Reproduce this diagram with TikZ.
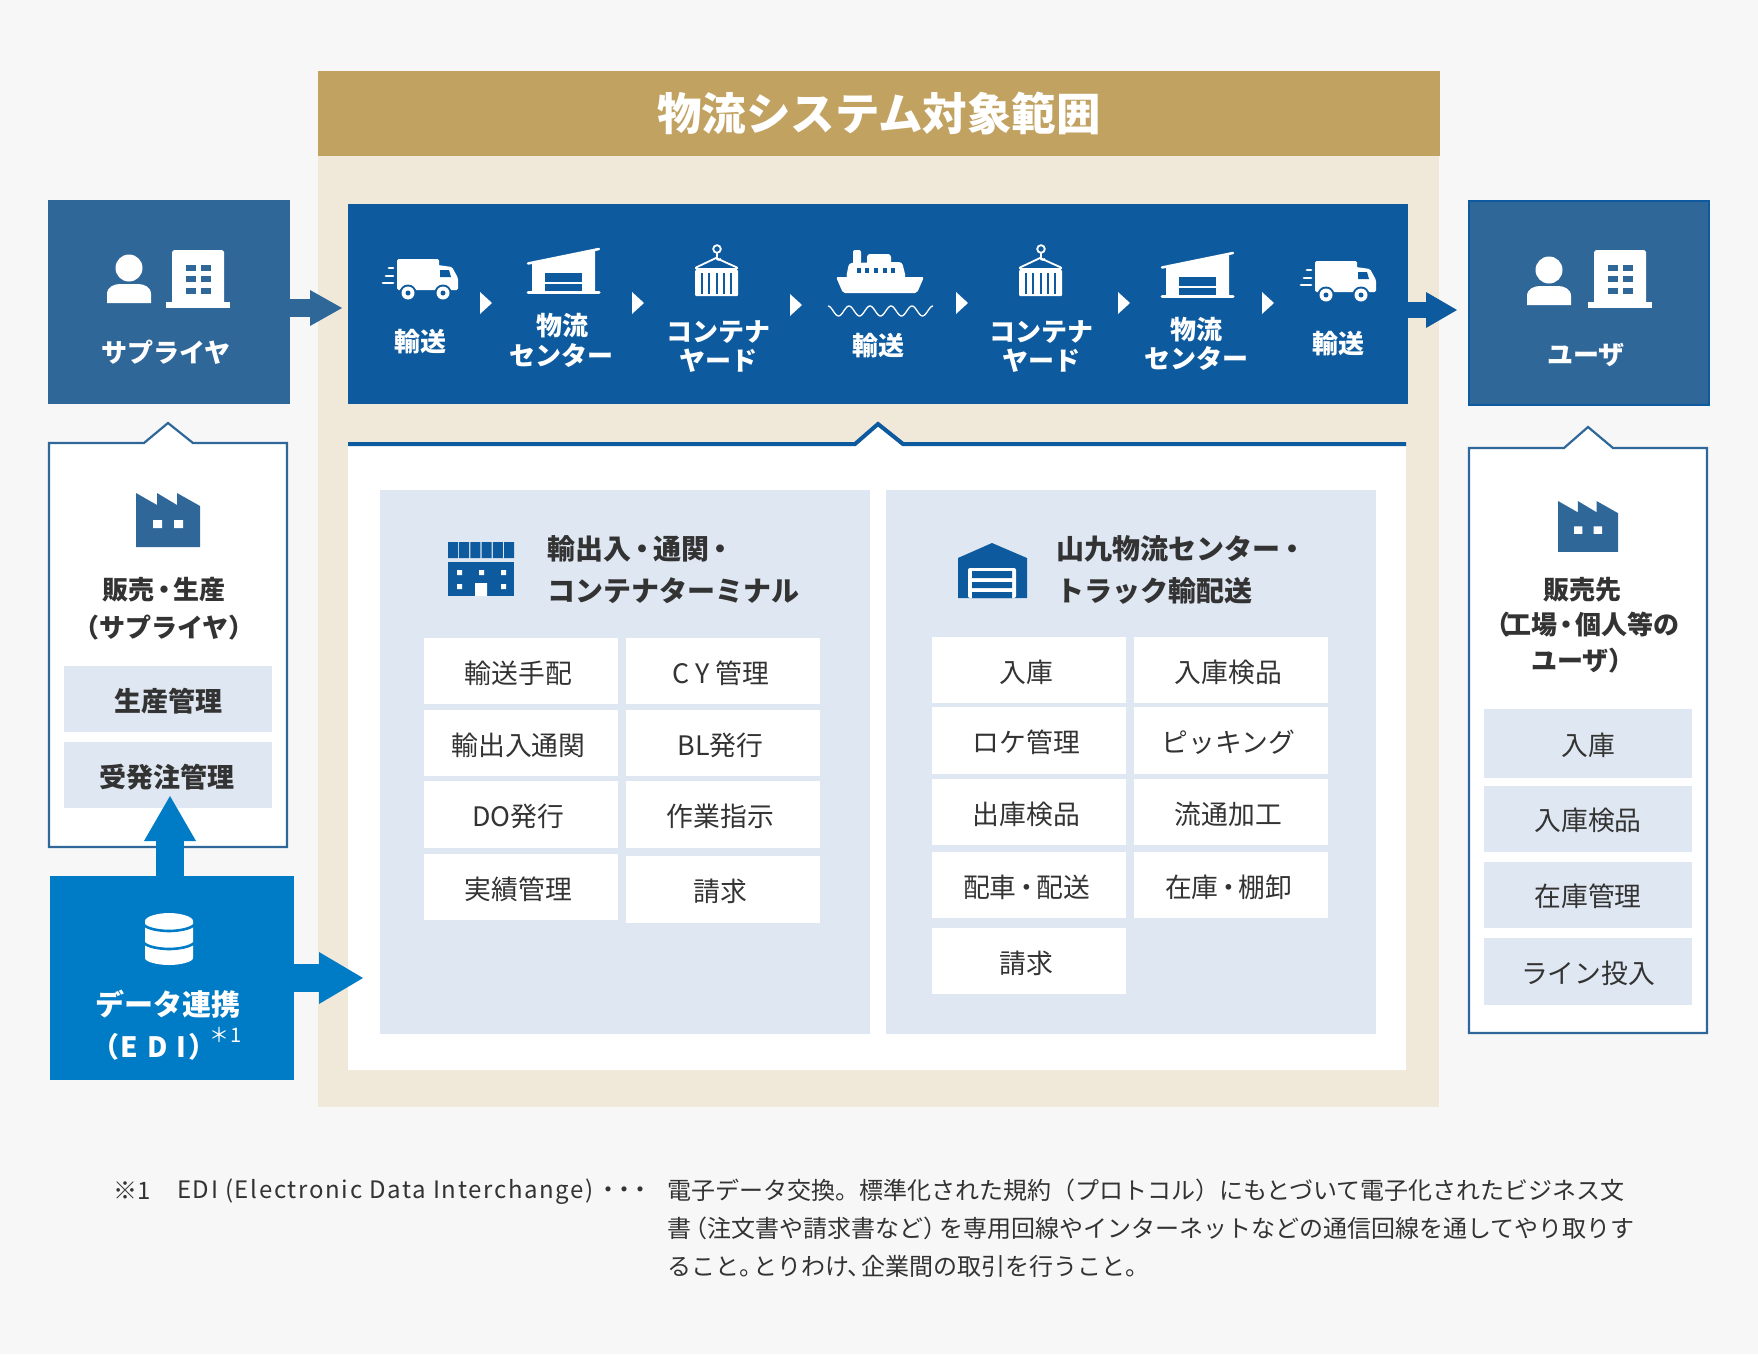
\documentclass[tikz,border=0pt]{standalone}
\usepackage{fontspec}
\setmainfont{Noto Sans CJK JP}
\usetikzlibrary{arrows.meta,calc}
\definecolor{bgc}{HTML}{F7F7F7}
\definecolor{goldc}{HTML}{C1A261}
\definecolor{beigec}{HTML}{F0E8D9}
\definecolor{bandc}{HTML}{0D5A9E}
\definecolor{steelc}{HTML}{2F6799}
\definecolor{panelc}{HTML}{DFE7F2}
\definecolor{edic}{HTML}{007CC7}
\definecolor{inkc}{HTML}{333333}
\newcommand\fs[1]{\fontsize{#1}{#1}\selectfont}
\newcommand\dotk[1]{\kern-#1pt・\kern-#1pt}
\newcommand\bx[7]{\node[#2,anchor=north west,minimum width={(#5-#3)*1pt},minimum height={(#6-#4)*1pt}] (#1) at (#3,#4) {#7};}
\newcommand\cx[6]{\bx{#1}{cell}{#2}{#3}{#4}{#5}{#6\kern5pt}}
\tikzset{
  x=1pt,y=-1pt,
  plain/.style={inner sep=0pt,outer sep=0pt},
  cell/.style={plain,fill=white,text=inkc,font=\fs{26.8},text height=27pt,text depth=3pt},
  subcell/.style={plain,fill=panelc,text=inkc,font=\fs{26.8},text height=26pt,text depth=3pt},
  subcellb/.style={plain,fill=panelc,text=inkc,font=\fs{27}\bfseries,text height=27pt,text depth=3pt},
  whitelbl/.style={plain,text=white,font=\fs{26}\bfseries,align=center},
  darklbl/.style={plain,text=inkc,font=\fs{26}\bfseries},
  headlbl/.style={plain,text=inkc,font=\fs{28}\bfseries,anchor=west},
  notelbl/.style={plain,text=inkc,font=\fs{24},anchor=west},
  tri/.style={fill=white},
}
\newcommand\personicon[3]{\begin{scope}[shift={(#1,#2)}]
  \fill[#3] (0,-16) circle[radius=13.5];
  \fill[#3] (-22,19) -- (-22,10) .. controls (-22,3) and (-15,0) .. (-9,0) -- (9,0) .. controls (15,0) and (22,3) .. (22,10) -- (22,19) -- cycle;
\end{scope}}
\newcommand\buildingicon[3]{\begin{scope}[shift={(#1,#2)}]
  \fill[white] (6,54) -- (6,2) -- (8,0) -- (56,0) -- (58,2) -- (58,54) -- cycle;
  \fill[white] (0,52) rectangle (64,58);
  \foreach \yy in {15,26,38}{\foreach \xx in {20,35}{\fill[#3] (\xx,\yy) rectangle ++(9.5,5.5);}}
\end{scope}}
\newcommand\factoryicon[4]{\begin{scope}[shift={(#1,#2)},scale=#3]
  \fill[#4] (0,0) -- (21,12) -- (21,0) -- (41,12) -- (41,0) -- (64,13) -- (64,54) -- (0,54) -- cycle;
  \fill[white] (17,27) rectangle ++(9,8) (38,27) rectangle ++(9,8);
\end{scope}}
\newcommand\truckicon[2]{\begin{scope}[shift={(#1,#2)}]
  \fill[white,rounded corners=1.5pt] (15,0) rectangle (57,31);
  \fill[white,rounded corners=1.5pt] (56,6) -- (70,8) -- (76,19) -- (76,31) -- (56,31) -- cycle;
  \fill[bandc] (58,11) -- (67,11) -- (69,18) -- (58,18) -- cycle;
  \fill[bandc] (26,34) circle[radius=8.5] (61,34) circle[radius=8.5];
  \fill[white] (26,34) circle[radius=6.5] (61,34) circle[radius=6.5];
  \fill[bandc] (26,34) circle[radius=2.5] (61,34) circle[radius=2.5];
  \draw[white,line width=2.8pt,line cap=round] (7,9) -- (11,9) (4,17) -- (11,17) (1,24) -- (11,24);
\end{scope}}
\newcommand\shedicon[2]{\begin{scope}[shift={(#1,#2)}]
  \fill[white] (5,15) -- (68,1.5) -- (68,45) -- (5,45) -- cycle;
  \draw[white,line width=2.5pt,line cap=round] (1,15.5) -- (72,1);
  \draw[white,line width=3pt,line cap=round] (1,44.5) -- (72,44.5);
  \fill[bandc] (18,25) rectangle (55,43);
  \fill[white] (18,33.5) rectangle (55,35.5);
\end{scope}}
\newcommand\containericon[2]{\begin{scope}[shift={(#1,#2)}]
  \draw[white,line width=1.8pt] (22,5) circle[radius=3.8];
  \draw[white,line width=1.8pt] (22,9) -- (22,13) .. controls (20,15) and (24,17) .. (26,15);
  \draw[white,line width=1.8pt,line join=round] (1,25) -- (1,23.5) -- (21,14) -- (42,23.5) -- (42,25);
  \draw[white,line width=1.2pt] (1,25) -- (42,25);
  \fill[white,rounded corners=1pt] (0,26) rectangle (43,52);
  \foreach \xx in {7,14,21.5,29,36}{\fill[bandc] (\xx-1,28.5) rectangle (\xx+1,49.5);}
\end{scope}}
\newcommand\shipicon[2]{\begin{scope}[shift={(#1,#2)}]
  \fill[white,rounded corners=2pt] (17,0) rectangle (25,16);
  \fill[white,rounded corners=3pt] (31,4) rectangle (55,16);
  \fill[white,rounded corners=3pt] (10,28) -- (13,13) -- (66,12) -- (70,28) -- cycle;
  \fill[white,rounded corners=2pt] (0,27) -- (88,27) -- (81,43) -- (7,43) -- cycle;
  \foreach \xx in {23,31,40,49,57}{\fill[bandc] (\xx-2,18) rectangle (\xx+2,22.5);}
\end{scope}
\draw[white,line width=1.3pt] plot[smooth,domain=0:105,samples=90] ({\x+828},{311-5*cos(\x/21*360)});}
\begin{document}
\begin{tikzpicture}
\useasboundingbox (0,0) rectangle (1758,1354);
\fill[bgc] (0,0) rectangle (1758,1354);
% central frame
\bx{scope1}{plain,fill=beigec}{318}{156}{1439}{1107}{}
\bx{title}{plain,fill=goldc,text=white,font=\fs{44.5}\bfseries}{318}{71}{1440}{156}{物流システム対象範囲}
\bx{band}{plain,fill=bandc}{348}{204}{1408}{404}{}
% inner panel
\fill[white] (348,445) -- (855,445) -- (878,424) -- (903,445) -- (1406,445) -- (1406,1070) -- (348,1070) -- cycle;
\draw[bandc,line width=4pt,line join=miter] (348,444) -- (855,444) -- (878,424) -- (903,444) -- (1406,444);
\bx{pleft}{plain,fill=panelc}{380}{490}{870}{1034}{}
\bx{pright}{plain,fill=panelc}{886}{490}{1376}{1034}{}
% process band
\truckicon{382}{259}
\shedicon{527}{248}
\containericon{695}{244}
\shipicon{836}{250}
\containericon{1019}{244}
\shedicon{1161}{252}
\truckicon{1300}{261}
\node[whitelbl] (t1) at (420,342) {輸送};
\node[whitelbl] (t2) at (562,326) {物流};
\node[whitelbl] (t2b) at (561,355) {センター};
\node[whitelbl] (t3) at (718,332) {コンテナ};
\node[whitelbl] (t3b) at (718,361) {ヤード};
\node[whitelbl] (t4) at (878,346) {輸送};
\node[whitelbl] (t5) at (1041,332) {コンテナ};
\node[whitelbl] (t5b) at (1041,361) {ヤード};
\node[whitelbl] (t6) at (1196,330) {物流};
\node[whitelbl] (t6b) at (1196,358) {センター};
\node[whitelbl] (t7) at (1338,344) {輸送};
\foreach \xa/\ya in {480/292,632/292,790/294,956/292,1118/292,1262/292}{
  \fill[tri] (\xa,\ya) -- (\xa+12,\ya+11) -- (\xa,\ya+22) -- cycle;}
% panel headers
\fill[bandc] \foreach \xx in {448,459.2,470.4,481.6,492.8,504}{(\xx,542) rectangle ++(10,16)};
\fill[bandc] (448,562) rectangle (514,596);
\fill[white] (457,570) rectangle ++(5,5) (479,570) rectangle ++(5,5) (501,570) rectangle ++(5,5) (457,584) rectangle ++(5,5) (501,584) rectangle ++(5,5) (475,583) rectangle (487,596);
\fill[bandc] (958,598) -- (958,558) -- (992,543) -- (1027,558) -- (1027,598) -- cycle;
\fill[white,rounded corners=2pt] (968,598) -- (968,568) -- (1016,568) -- (1016,598) -- cycle;
\fill[bandc] (972,571) rectangle (1012,578) (972,582) rectangle (1012,588) (972,592) rectangle (1012,598);
\node[headlbl] (h1a) at (547,549) {輸出入\dotk{3}通関\kern-3pt・};
\node[headlbl] (h1b) at (547,591) {コンテナターミナル};
\node[headlbl] (h2a) at (1056,549) {山九物流センター\kern-2pt・};
\node[headlbl] (h2b) at (1056,591) {トラック輸配送};
% left cells
\cx{a1}{424}{638}{618}{704}{輸送手配}
\cx{a2}{626}{638}{820}{704}{C Y 管理}
\cx{a3}{424}{710}{618}{776}{輸出入通関}
\cx{a4}{626}{710}{820}{776}{BL発行}
\cx{a5}{424}{781}{618}{848}{DO発行}
\cx{a6}{626}{781}{820}{848}{作業指示}
\cx{a7}{424}{854}{618}{920}{実績管理}
\cx{a8}{626}{856}{820}{923}{請求}
% right cells
\cx{b1}{932}{637}{1126}{703}{入庫}
\cx{b2}{1134}{637}{1328}{703}{入庫検品}
\cx{b3}{932}{707}{1126}{774}{ロケ管理}
\cx{b4}{1134}{707}{1328}{774}{ピッキング}
\cx{b5}{932}{779}{1126}{845}{出庫検品}
\cx{b6}{1134}{779}{1328}{845}{流通加工}
\cx{b7}{932}{852}{1126}{918}{配車\dotk{3.5}配送}
\cx{b8}{1134}{852}{1328}{918}{在庫\dotk{3.5}棚卸}
\cx{b9}{932}{928}{1126}{994}{請求}
% supplier column
\bx{sup}{plain,fill=steelc}{48}{200}{290}{404}{}
\personicon{129}{284}{white}
\buildingicon{166}{250}{steelc}
\node[whitelbl] (supt) at (166,352) {サプライヤ};
\draw[steelc,line width=2.2pt,fill=white,line join=miter] (49,443) -- (144,443) -- (168,423) -- (193,443) -- (287,443) -- (287,847) -- (49,847) -- cycle;
\factoryicon{136}{493}{1}{steelc}
\node[darklbl] (sl1) at (164,590) {販売\dotk{3.5}生産};
\node[darklbl] (sl2) at (164,628) {（サプライヤ）};
\bx{s1}{subcellb}{64}{666}{272}{732}{生産管理}
\bx{s2}{subcellb}{64}{742}{272}{808}{受発注管理\kern2pt}
% user column
\bx{usr}{plain,fill=steelc,draw=bandc,line width=2pt}{1469}{201}{1709}{405}{}
\personicon{1549}{286}{white}
\buildingicon{1588}{250}{steelc}
\node[whitelbl] (usrt) at (1586,355) {ユーザ};
\draw[steelc,line width=2.2pt,fill=white,line join=miter] (1469,448) -- (1564,448) -- (1588,427) -- (1613,448) -- (1707,448) -- (1707,1033) -- (1469,1033) -- cycle;
\factoryicon{1558}{501}{0.94}{steelc}
\node[darklbl] (ul1) at (1582,590) {販売先};
\node[darklbl] (ul2) at (1581.5,625) {（\kern-5pt工場\dotk{4}個人等の};
\node[darklbl] (ul3) at (1583,661) {ユーザ）};
\bx{u1}{subcell}{1484}{709}{1692}{778}{入庫}
\bx{u2}{subcell}{1484}{786}{1692}{852}{入庫検品}
\bx{u3}{subcell}{1484}{862}{1692}{928}{在庫管理}
\bx{u4}{subcell}{1484}{938}{1692}{1005}{ライン投入}
% EDI
\bx{edi}{plain,fill=edic}{50}{876}{294}{1080}{}
\fill[white] (145,921) .. controls (145,916.5) and (158,913) .. (169,913) .. controls (180,913) and (193,916.5) .. (193,921) -- (193,958) .. controls (193,962) and (180,965) .. (169,965) .. controls (158,965) and (145,962) .. (145,958) -- cycle;
\draw[edic,line width=2.6pt] (144,925) .. controls (148,929) and (160,931) .. (169,931) .. controls (178,931) and (190,929) .. (194,925);
\draw[edic,line width=2.6pt] (144,943) .. controls (148,947) and (160,949) .. (169,949) .. controls (178,949) and (190,947) .. (194,943);
\node[plain,text=white,font=\fs{29}\bfseries] (edit) at (168,1004) {データ連携};
\node[plain,text=white,font=\fs{28}\bfseries] (edis) at (154,1047) {\kern-14pt（\kern1pt E\kern9pt D\kern9pt I\kern2pt）\kern-14pt};
\node[plain,text=white,font=\fs{20}] (edin) at (226,1035) {＊\kern1pt1};
% block arrows
\coordinate (suptip) at (342,308);
\draw[steelc,line width=18pt,-{Triangle[length=32pt,width=36pt,line width=0pt]}] (sup.east |- suptip) -- (suptip);
\coordinate (usrtip) at (1457,310);
\draw[bandc,line width=16pt,-{Triangle[length=31pt,width=36pt,line width=0pt]}] (band.east |- usrtip) -- (usrtip);
\coordinate (ediup) at (170,796);
\draw[edic,line width=28pt,-{Triangle[length=45pt,width=52pt,line width=0pt]}] (ediup |- edi.north) -- (ediup);
\coordinate (editip) at (363,978);
\draw[edic,line width=28pt,-{Triangle[length=44pt,width=52pt,line width=0pt]}] (edi.east |- editip) -- (editip);
% footnote
\node[notelbl] (n0) at (113,1191) {※1};
\node[notelbl] (n1) at (177,1192) {{\addfontfeature{LetterSpace=7}EDI (Electronic Data Interchange)}\kern3pt・\kern-8pt・\kern-8pt・};
\node[notelbl] (n2) at (667,1190) {電子データ交換。標準化された規約（プロトコル）にもとづいて電子化されたビジネス文};
\node[notelbl] (n3) at (667,1228) {書\kern-8pt（注文書や請求書など）\kern-8ptを専用回線やインターネットなどの通信回線を通してやり取りす};
\node[notelbl] (n4) at (667,1266) {ること。\kern-10ptとりわけ、\kern-10pt企業間の取引を行うこと。};
\end{tikzpicture}
\end{document}
